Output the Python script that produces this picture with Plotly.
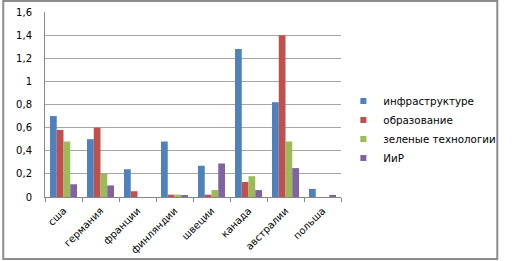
import plotly.graph_objects as go

categories = ["сша", "германия", "франции", "финляндии", "швеции", "канада", "австралии", "польша"]
infra = [0.70, 0.50, 0.24, 0.48, 0.27, 1.28, 0.82, 0.07]
educ = [0.58, 0.60, 0.05, 0.02, 0.02, 0.13, 1.40, 0.0]
green = [0.48, 0.20, 0.0, 0.02, 0.06, 0.18, 0.48, 0.0]
rnd = [0.11, 0.10, 0.0, 0.01, 0.29, 0.06, 0.25, 0.01]
series_names = ["инфраструктуре", "образование", "зеленые технологии", "ИиР"]
colors = ["#4F81BD", "#C0504D", "#9BBB59", "#8064A2"]
ytick_vals = [0, 0.2, 0.4, 0.6, 0.8, 1.0, 1.2, 1.4, 1.6]

fig = go.Figure()
for name, vals, c in zip(series_names, [infra, educ, green, rnd], colors):
    fig.add_trace(go.Bar(x=categories, y=vals, name=name, showlegend=False,
                         marker=dict(color=c, line=dict(width=0))))
# legend entries with small square keys
for name, c in zip(series_names, colors):
    fig.add_trace(go.Scatter(x=[None], y=[None], mode="markers", name=name,
                             marker=dict(symbol="square", size=6, color=c)))

fig.update_layout(
    width=513, height=261,
    margin=dict(l=45, r=163, t=12, b=64),
    paper_bgcolor="white", plot_bgcolor="white",
    barmode="group", bargap=0.27, bargroupgap=0,
    separators=", ",
    font=dict(family="DejaVu Sans", size=10, color="#000000"),
    showlegend=True,
    legend=dict(x=1.008, y=0.365, xanchor="left", yanchor="middle",
                font=dict(size=10.3), tracegroupgap=0, itemwidth=30,
                bgcolor="rgba(0,0,0,0)"),
    xaxis=dict(showline=True, linecolor="#868686", linewidth=1, automargin=False,
               ticks="outside", tickson="boundaries", ticklen=4, tickcolor="#868686",
               tickangle=-45, tickfont=dict(size=10), ticklabelstandoff=3),
    yaxis=dict(range=[0, 1.6], tickvals=ytick_vals, showline=True, linecolor="#868686",
               linewidth=1, showgrid=True, gridcolor="#a6a6a6", gridwidth=1,
               automargin=False, ticklabelstandoff=10,
               ticks="", tickfont=dict(size=10), zeroline=False),
)
fig.add_shape(type="rect", xref="paper", yref="paper",
              x0=-0.141, x1=1.528, y0=-0.335, y1=1.059,
              line=dict(color="#8c8c8c", width=2), layer="below")
fig.write_html("out.html")
